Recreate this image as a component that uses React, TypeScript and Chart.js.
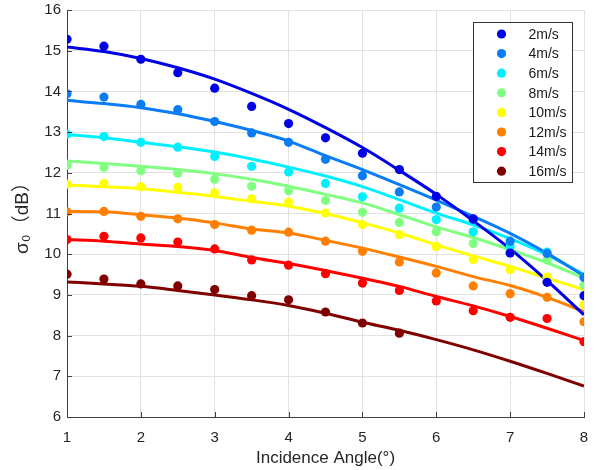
import React, { useEffect, useRef } from "react";
import { Chart, registerables } from "chart.js";

Chart.register(...registerables);

// Incidence angles (degrees)
const angles = [1, 1.5, 2, 2.5, 3, 3.5, 4, 4.5, 5, 5.5, 6, 6.5, 7, 7.5, 8];
const seriesNames = ["2m/s", "4m/s", "6m/s", "8m/s", "10m/s", "12m/s", "14m/s", "16m/s"];
const seriesColors = ["#0000e6", "#0a7df5", "#00f0ff", "#80ff80", "#ffff00", "#ff8000", "#ff0000", "#800000"];

// Measured points (σ0, dB)
const pts2 = [15.28, 15.11, 14.79, 14.46, 14.08, 13.63, 13.21, 12.86, 12.48, 12.08, 11.42, 10.87, 10.03, 9.31, 8.98];
const pts4 = [13.94, 13.86, 13.68, 13.55, 13.26, 12.98, 12.75, 12.33, 11.93, 11.53, 11.16, 10.85, 10.32, 10.02, 9.43];
const pts6 = [12.95, 12.89, 12.75, 12.63, 12.4, 12.16, 12.02, 11.74, 11.41, 11.13, 10.85, 10.55, 10.19, 10.05, 9.44];
const pts8 = [12.18, 12.13, 12.05, 11.99, 11.84, 11.67, 11.56, 11.32, 11.03, 10.78, 10.55, 10.26, 10.03, 9.86, 9.24];
const pts10 = [11.72, 11.74, 11.66, 11.64, 11.51, 11.36, 11.28, 11.01, 10.73, 10.48, 10.19, 9.87, 9.62, 9.44, 8.76];
const pts12 = [11.04, 11.05, 10.93, 10.87, 10.73, 10.59, 10.54, 10.32, 10.07, 9.81, 9.54, 9.22, 9.03, 8.94, 8.34];
const pts14 = [10.36, 10.44, 10.4, 10.3, 10.13, 9.86, 9.73, 9.52, 9.29, 9.11, 8.85, 8.61, 8.45, 8.42, 7.85];
const pts16 = [9.51, 9.39, 9.27, 9.22, 9.13, 8.98, 8.88, 8.58, 8.31, 8.06];

// Fitted curves (σ0, dB) read at the same angles
const fit2 = [15.09, 14.98, 14.81, 14.58, 14.3, 13.95, 13.56, 13.11, 12.62, 12.06, 11.47, 10.82, 10.13, 9.35, 8.51];
const fit4 = [13.78, 13.7, 13.6, 13.45, 13.26, 13.04, 12.78, 12.42, 12.08, 11.71, 11.33, 10.93, 10.51, 10.02, 9.47];
const fit6 = [12.94, 12.86, 12.75, 12.64, 12.51, 12.34, 12.14, 11.92, 11.66, 11.34, 11.01, 10.72, 10.38, 9.98, 9.5];
const fit8 = [12.29, 12.23, 12.16, 12.08, 11.98, 11.84, 11.67, 11.47, 11.26, 10.97, 10.67, 10.41, 10.11, 9.79, 9.41];
const fit10 = [11.7, 11.66, 11.61, 11.52, 11.42, 11.3, 11.18, 11.0, 10.77, 10.52, 10.23, 9.96, 9.7, 9.41, 9.13];
const fit12 = [11.05, 11.04, 10.97, 10.89, 10.77, 10.62, 10.52, 10.34, 10.15, 9.93, 9.7, 9.45, 9.23, 8.94, 8.59];
const fit14 = [10.36, 10.32, 10.25, 10.19, 10.09, 9.92, 9.77, 9.6, 9.41, 9.21, 8.96, 8.73, 8.47, 8.18, 7.88];
const fit16 = [9.32, 9.27, 9.21, 9.11, 9.0, 8.88, 8.74, 8.55, 8.33, 8.13, 7.9, 7.65, 7.37, 7.07, 6.76];

const pointSeries = [pts2, pts4, pts6, pts8, pts10, pts12, pts14, pts16];
const fitSeries = [fit2, fit4, fit6, fit8, fit10, fit12, fit14, fit16];

const xTicks = [1, 2, 3, 4, 5, 6, 7, 8];
const yTicks = [6, 7, 8, 9, 10, 11, 12, 13, 14, 15, 16];

const FONT = '"Liberation Sans", Arial, sans-serif';
const AXIS_COLOR = "#404040";
const GRID_COLOR = "#e2e2e2";

const inwardTicks = {
  id: "inwardTicks",
  afterDraw(chart: any) {
    const { ctx, chartArea } = chart;
    const xs = chart.scales.x;
    const ys = chart.scales.y;
    ctx.save();
    ctx.strokeStyle = AXIS_COLOR;
    ctx.lineWidth = 1;
    ctx.beginPath();
    xTicks.forEach((v) => {
      const px = Math.round(xs.getPixelForValue(v)) + 0.5;
      ctx.moveTo(px, chartArea.bottom);
      ctx.lineTo(px, chartArea.bottom - 5);
    });
    yTicks.forEach((v) => {
      const py = Math.round(ys.getPixelForValue(v)) + 0.5;
      ctx.moveTo(chartArea.left, py);
      ctx.lineTo(chartArea.left + 5, py);
    });
    ctx.stroke();
    ctx.restore();
  },
};

const boxLegend = {
  id: "boxLegend",
  afterDraw(chart: any) {
    const { ctx, chartArea } = chart;
    const w = 99;
    const rowH = 19.6;
    const h = 160;
    const left = Math.round(chartArea.right - 12 - w) + 0.5;
    const top = Math.round(chartArea.top + 12) + 0.5;
    ctx.save();
    ctx.fillStyle = "#ffffff";
    ctx.fillRect(left, top, w, h);
    ctx.strokeStyle = "#333333";
    ctx.lineWidth = 1;
    ctx.strokeRect(left, top, w, h);
    ctx.font = `14px ${FONT}`;
    ctx.textBaseline = "middle";
    ctx.textAlign = "left";
    seriesNames.forEach((name, i) => {
      const cy = top + 11.5 + i * rowH;
      ctx.beginPath();
      ctx.fillStyle = seriesColors[i];
      ctx.arc(left + 28, cy, 4.6, 0, Math.PI * 2);
      ctx.fill();
      ctx.fillStyle = "#1a1a1a";
      ctx.fillText(name, left + 55, cy + 1);
    });
    ctx.restore();
  },
};

export default function App() {
  const ref = useRef<HTMLCanvasElement | null>(null);

  useEffect(() => {
    if (!ref.current) return;
    const datasets: any[] = [];
    seriesNames.forEach((name, i) => {
      datasets.push({
        label: name + " points",
        data: pointSeries[i].map((y, j) => ({ x: angles[j], y })),
        showLine: false,
        pointRadius: 4.6,
        pointHoverRadius: 4.6,
        pointBackgroundColor: seriesColors[i],
        pointBorderWidth: 0,
        borderColor: seriesColors[i],
        backgroundColor: seriesColors[i],
        order: 1,
      });
      datasets.push({
        label: name + " fit",
        data: fitSeries[i].map((y, j) => ({ x: angles[j], y })),
        showLine: true,
        pointRadius: 0,
        borderColor: seriesColors[i],
        borderWidth: 3,
        cubicInterpolationMode: "monotone",
        fill: false,
        order: 2,
      });
    });

    const chart = new Chart(ref.current, {
      type: "scatter",
      data: { datasets },
      options: {
        animation: false,
        responsive: false,
        maintainAspectRatio: false,
        layout: { padding: { top: 10, right: 13, left: 0, bottom: 0 } },
        plugins: {
          legend: { display: false },
          tooltip: { enabled: false },
        },
        scales: {
          x: {
            type: "linear",
            min: 1,
            max: 8,
            afterFit: (s: any) => {
              s.height = 53;
              s.paddingLeft = 0;
              s.paddingRight = 0;
              s.paddingTop = 0;
              s.paddingBottom = 0;
            },
            afterBuildTicks: (s: any) => {
              s.ticks = xTicks.map((v) => ({ value: v }));
            },
            ticks: {
              padding: 12,
              color: "#262626",
              font: { family: FONT, size: 15 },
            },
            grid: { color: GRID_COLOR, drawTicks: false, lineWidth: 1 },
            border: { color: AXIS_COLOR, width: 1 },
            title: {
              display: true,
              text: "Incidence Angle(°)",
              color: "#262626",
              font: { family: FONT, size: 17 },
              padding: { top: 0, bottom: 1 },
            },
          },
          y: {
            type: "linear",
            min: 6,
            max: 16,
            afterFit: (s: any) => {
              s.width = 67;
              s.paddingLeft = 0;
              s.paddingRight = 0;
              s.paddingTop = 0;
              s.paddingBottom = 0;
            },
            afterBuildTicks: (s: any) => {
              s.ticks = yTicks.map((v) => ({ value: v }));
            },
            ticks: {
              padding: 6,
              color: "#262626",
              font: { family: FONT, size: 15 },
            },
            grid: { color: GRID_COLOR, drawTicks: false, lineWidth: 1 },
            border: { color: AXIS_COLOR, width: 1 },
            title: {
              display: true,
              text: "σ₀（dB）",
              color: "#262626",
              font: { family: FONT + ', "Noto Sans CJK SC"', size: 19 },
              padding: { top: 11, bottom: 0 },
            },
          },
        },
      },
      plugins: [inwardTicks, boxLegend],
    } as any);
    return () => chart.destroy();
  }, []);

  return (
    <div style={{ position: "fixed", left: 0, top: 0, width: 597, height: 470, background: "#fff" }}>
      <canvas ref={ref} width={597} height={470} style={{ width: 597, height: 470, display: "block" }} />
    </div>
  );
}
